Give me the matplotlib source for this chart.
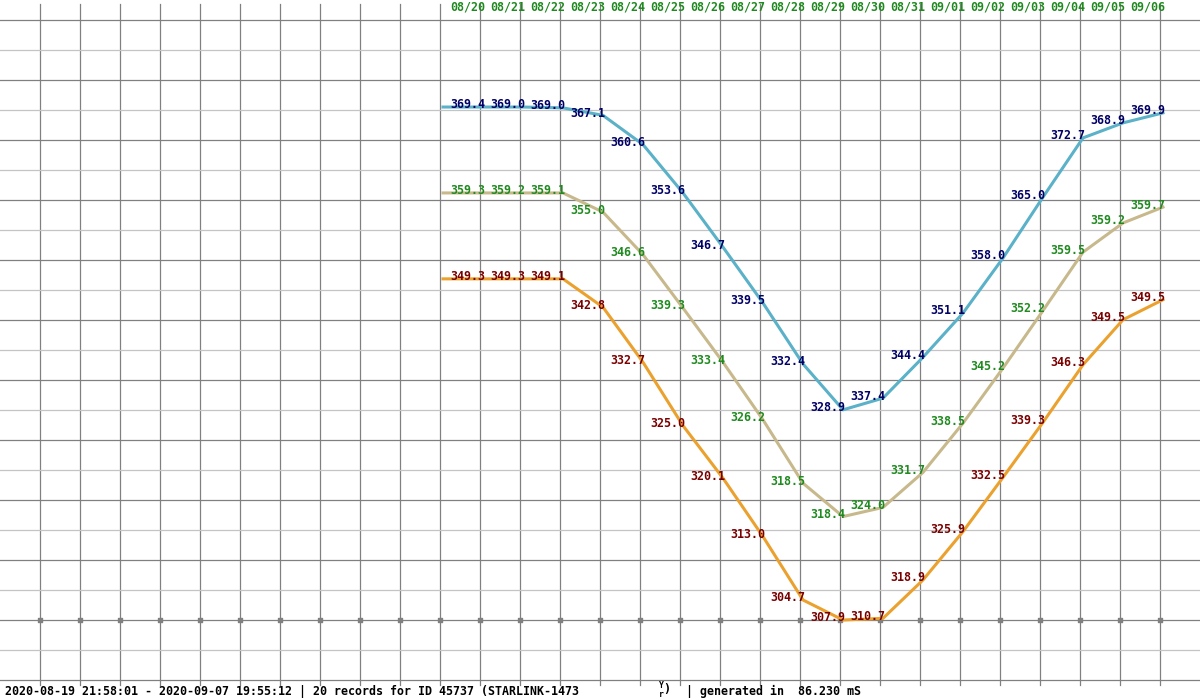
"""
Orbit height plot for STARLINK-1473 (apogee / mean / perigee)
"""
import matplotlib as mpl
mpl.use('Agg')
import matplotlib.pyplot as plt

# dates shown on top (one per record after the first)
dates = ['08/20', '08/21', '08/22', '08/23', '08/24', '08/25', '08/26',
         '08/27', '08/28', '08/29', '08/30', '08/31', '09/01', '09/02',
         '09/03', '09/04', '09/05', '09/06']

# drawn line heights (km), first entry is the 08/19 record
apogee_line = [369.4, 369.4, 369.4, 369.3, 368.4, 364.9, 359.1, 352.6, 345.9,
               338.6, 333.1, 334.5, 339.4, 344.7, 351.3, 358.6, 365.7, 367.5,
               368.7]
mean_line = [359.1, 359.1, 359.1, 359.1, 356.8, 351.7, 345.3, 338.8, 331.9,
             324.3, 320.3, 321.4, 325.6, 331.5, 338.1, 345.0, 352.0, 355.5,
             357.4]
perigee_line = [348.8, 348.8, 348.8, 348.8, 345.4, 338.8, 331.2, 324.9, 317.9,
                310.3, 307.9, 308.1, 312.7, 318.5, 325.0, 331.6, 338.5, 343.9,
                346.3]

# printed values
apogee_vals = ['369.4', '369.0', '369.0', '367.1', '360.6', '353.6', '346.7',
               '339.5', '332.4', '328.9', '337.4', '344.4', '351.1', '358.0',
               '365.0', '372.7', '368.9', '369.9']
mean_vals = ['359.3', '359.2', '359.1', '355.0', '346.6', '339.3', '333.4',
             '326.2', '318.5', '318.4', '324.0', '331.7', '338.5', '345.2',
             '352.2', '359.5', '359.2', '359.7']
perigee_vals = ['349.3', '349.3', '349.1', '342.8', '332.7', '325.0', '320.1',
                '313.0', '304.7', '307.9', '310.7', '318.9', '325.9', '332.5',
                '339.3', '346.3', '349.5', '349.5']

footer_left = ('2020-08-19 21:58:01 - 2020-09-07 19:55:12 | 20 records for ID '
               '45737 (STARLINK-1473')
footer_right = '| generated in  86.230 mS'

W, H = 1200, 700
FONT = dict(family='DejaVu Sans Mono', fontweight='bold', fontsize=8.4)

plt.close('all')
fig = plt.figure(figsize=(W / 100, H / 100), dpi=100)
ax = fig.add_axes([0, 0, 1, 1])
ax.axis('off')

# x: record index, 40 px apart, record 0 at pixel 443
ax.set_xlim(-443 / 40, (W - 443) / 40)
# y: km, 8.341 px per km, 307.9 at pixel 620
scale = 8.341
ax.set_ylim(307.9 - (H - 620) / scale, 307.9 + 620 / scale)

#######################################
# Grid (pixel layout, axes fraction)
#######################################
for px in range(40, 1200, 40):
    ax.plot([px / W, px / W], [1 - 4 / H, 1 - 685 / H], color='#808080',
            lw=0.9, transform=ax.transAxes, zorder=1)
for py in range(20, 700, 30):
    dark = (py - 20) % 60 == 0
    ax.plot([0, 1], [1 - py / H, 1 - py / H],
            color='#808080' if dark else '#c4c4c4', lw=0.9,
            transform=ax.transAxes, zorder=1)
ax.scatter([px / W for px in range(40, 1200, 40)], [1 - 620 / H] * 29,
           marker='s', s=5, color='#808080', transform=ax.transAxes, zorder=1)

#######################################
# Series
#######################################
xs = list(range(len(apogee_line)))
series = [(apogee_line, apogee_vals, '#5ab1c8', '#000066'),
          (mean_line, mean_vals, '#c8b98c', '#1f8a1f'),
          (perigee_line, perigee_vals, '#eba12e', '#7a0000')]

for line, vals, lc, tc in series:
    ax.plot(xs, line, color=lc, lw=2.2, solid_joinstyle='round', zorder=3)
    for i, v in enumerate(vals):
        ax.annotate(v, (xs[i + 1], line[i + 1]), xytext=(1.5, 1.5),
                    textcoords='offset points', ha='right', va='center',
                    color=tc, zorder=4, **FONT)

for i, d in enumerate(dates):
    ax.annotate(d, (xs[i + 1], 1 - 7.5 / H), xycoords=('data', 'axes fraction'),
                xytext=(1.5, 0), textcoords='offset points', ha='right',
                va='center', color='#1f8a1f', **FONT)

#######################################
# Footer
#######################################
ax.text(5 / W, 1 - 691 / H, footer_left, transform=ax.transAxes, ha='left',
        va='center', color='black', **FONT)
ax.text(658 / W, 1 - 691 / H, r'$\mathregular{_r^Y}$)', transform=ax.transAxes,
        ha='left', va='center', color='black', **FONT)
ax.text(686 / W, 1 - 691 / H, footer_right, transform=ax.transAxes, ha='left',
        va='center', color='black', **FONT)

fig.savefig('out.png', dpi=100)
